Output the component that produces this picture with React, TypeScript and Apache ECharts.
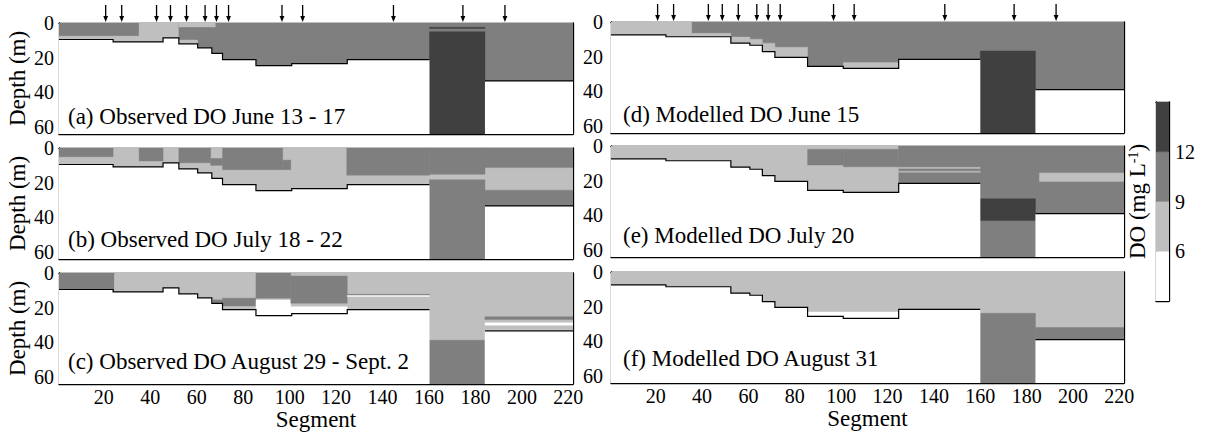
import React, { useEffect, useRef } from "react";
import * as echarts from "echarts";

// ---------- data ----------
const segTicks = [20, 40, 60, 80, 100, 120, 140, 160, 180, 200, 220];
const depthTicks = [0, 20, 40, 60];
const doTicks = [6, 9, 12];
const doThresholds = [3, 6, 9, 12, 15];
const doColors = ["#ffffff", "#bfbfbf", "#7f7f7f", "#404040"];

const SEG_MIN = 0.7;
const SEG_MAX = 222;
const DEPTH_MAX = 64;

// sampling stations (arrows)
const stations = [20.8, 27.7, 42.7, 48.7, 55.6, 63.6, 68.5, 73.7, 96.7, 105.6, 144.7, 174.6, 192.7];

// bathymetry steps: [segment where step starts, bottom depth (m)]
const obsBottom = [
  [0.7, 9.5], [24, 10.9], [45.5, 8.6], [52.3, 12.0], [60.4, 14.3], [66.5, 17.5],
  [71.1, 21.1], [85.5, 24.6], [100.9, 23.4], [124.8, 21.1], [160.2, 64], [184.1, 33.4],
];
const modBottom = [
  [0.7, 7.4], [24.4, 8.5], [52.4, 12.2], [60.6, 13.4], [66, 17.1], [71.4, 20.4],
  [85.5, 25.6], [100.9, 26.7], [124.8, 21.5], [160, 64], [183.8, 39],
];

// DO blocks: [seg start, seg end, depth top, depth bottom, DO mg/L] (drawn in order)
const panelA = [
  [0.7, 35.2, 0, 64, 7.5],
  [0.7, 35.2, 0, 7.3, 10.5],
  [35.2, 52.3, 0, 64, 7.5],
  [52.3, 222, 0, 64, 10.5],
  [52.3, 68, 0, 2.3, 7.5],
  [52.3, 60.4, 9.8, 64, 7.5],
  [160.2, 184.1, 2.5, 3.2, 13.5],
  [160.2, 184.1, 5, 64, 13.5],
];
const panelB = [
  [0.7, 222, 0, 64, 7.5],
  [0.7, 24, 0, 5, 10.5],
  [35.2, 45.5, 0, 7.5, 10.5],
  [52.3, 66, 0, 8.5, 10.5],
  [66, 71.1, 6, 10, 10.5],
  [71.1, 97, 0, 12.5, 10.5],
  [97, 100.5, 7, 12.5, 10.5],
  [124.6, 160.2, 0, 15.7, 10.5],
  [160.2, 184.1, 0, 15.2, 10.5],
  [160.2, 184.1, 18.3, 64, 10.5],
  [184.1, 222, 0, 11.3, 10.5],
  [184.1, 222, 24.3, 64, 10.5],
];
const panelC = [
  [0.7, 24.6, 0, 64, 10.5],
  [24.6, 222, 0, 64, 7.5],
  [67, 71.1, 15.5, 17.5, 10.5],
  [71.1, 85.5, 14.5, 19, 10.5],
  [85.5, 100.5, 0, 14.5, 10.5],
  [85.5, 100.5, 15.5, 64, 4.5],
  [100.5, 124.8, 1.8, 17.4, 10.5],
  [100.5, 124.8, 19.4, 64, 4.5],
  [124.8, 160.2, 12.3, 13.0, 10.5],
  [124.8, 160.2, 13.0, 13.6, 4.5],
  [160.2, 184.1, 38.8, 64, 10.5],
  [184.1, 222, 25.2, 26.8, 10.5],
  [184.1, 222, 28.7, 30.1, 4.5],
  [184.1, 222, 33, 64, 4.5],
];
const panelD = [
  [0.7, 222, 0, 64, 10.5],
  [0.7, 35.5, 0, 64, 7.5],
  [35.5, 52.4, 6.5, 64, 7.5],
  [52.4, 60.6, 8.7, 64, 7.5],
  [60.6, 66, 9.9, 64, 7.5],
  [66, 71.4, 12.2, 64, 7.5],
  [71.4, 85.5, 14.6, 64, 7.5],
  [100.9, 124.8, 23.3, 64, 7.5],
  [160, 183.8, 16.7, 64, 13.5],
];
const panelE = [
  [0.7, 124.8, 0, 64, 7.5],
  [85.5, 100.9, 1.9, 11, 10.5],
  [100.9, 124.8, 1.9, 12, 10.5],
  [124.8, 222, 0, 64, 10.5],
  [124.8, 160, 12.3, 13, 7.5],
  [124.8, 160, 14.5, 15.2, 7.5],
  [160, 183.8, 30.4, 43, 13.5],
  [185.5, 222, 15.5, 20.5, 7.5],
];
const panelF = [
  [0.7, 222, 0, 64, 7.5],
  [85.5, 124.8, 23, 64, 4.5],
  [160, 183.8, 23.8, 64, 10.5],
  [183.8, 222, 32, 64, 10.5],
];

const panelTitles = [
  "(a) Observed DO June 13 - 17",
  "(b) Observed DO July 18 - 22",
  "(c) Observed DO August 29 - Sept. 2",
  "(d) Modelled DO June 15",
  "(e) Modelled DO July 20",
  "(f) Modelled DO August 31",
];

// ---------- layout / style ----------
const FONT = "Liberation Serif";
const grids = [
  { left: 59, top: 23, width: 514, height: 111 },
  { left: 59, top: 148, width: 514, height: 111 },
  { left: 59, top: 273, width: 514, height: 111 },
  { left: 611, top: 22, width: 513, height: 111 },
  { left: 611, top: 146, width: 513, height: 111 },
  { left: 611, top: 272, width: 513, height: 111 },
  { left: 1156, top: 102, width: 13, height: 199 },
];
const labelX = [68, 68, 68, 623, 623, 623];
const labelY = [116.5, 239, 361.3, 114.2, 235.8, 358.3];

function colorFor(v: number) {
  for (let k = 0; k < doThresholds.length - 1; k++) {
    if (v < doThresholds[k + 1]) return doColors[k];
  }
  return doColors[doColors.length - 1];
}

function renderBlock(params: any, api: any) {
  const p0 = api.coord([api.value(0), api.value(2)]);
  const p1 = api.coord([api.value(1), api.value(3)]);
  const c = colorFor(api.value(4));
  return {
    type: "rect",
    shape: {
      x: Math.min(p0[0], p1[0]),
      y: Math.min(p0[1], p1[1]),
      width: Math.abs(p1[0] - p0[0]),
      height: Math.abs(p1[1] - p0[1]),
    },
    style: { fill: c, stroke: c, lineWidth: 0.4 },
  };
}

// whole bottom profile drawn once (white mask below the bed + black bed line)
function renderBottom(params: any, api: any) {
  if (params.dataIndexInside !== 0) return null;
  const n = params.dataInsideLength;
  const runs: number[][][] = [];
  let cur: number[][] = [];
  for (let k = 0; k < n; k++) {
    const x0 = api.value(0, k);
    const x1 = api.value(1, k);
    const d = api.value(2, k);
    if (d < DEPTH_MAX) {
      cur.push(api.coord([x0, d]));
      cur.push(api.coord([x1, d]));
    } else if (cur.length) {
      runs.push(cur);
      cur = [];
    }
  }
  if (cur.length) runs.push(cur);
  const children: any[] = [];
  runs.forEach((pts) => {
    const yb = api.coord([SEG_MIN, DEPTH_MAX])[1];
    const poly = pts.concat([[pts[pts.length - 1][0], yb], [pts[0][0], yb]]);
    children.push({ type: "polygon", z2: 0, shape: { points: poly }, style: { fill: "#ffffff" } });
    children.push({ type: "polyline", z2: 10, shape: { points: pts }, style: { stroke: "#000", lineWidth: 1.2, fill: null } });
  });
  return { type: "group", children };
}

function renderArrow(params: any, api: any) {
  const p = api.coord([api.value(0), 0]);
  return {
    type: "group",
    children: [
      { type: "line", shape: { x1: p[0], y1: p[1] - 18, x2: p[0], y2: p[1] - 5 }, style: { stroke: "#000", lineWidth: 1.3 } },
      {
        type: "polygon",
        shape: { points: [[p[0] - 2.4, p[1] - 7], [p[0] + 2.4, p[1] - 7], [p[0], p[1] - 1]] },
        style: { fill: "#000" },
      },
    ],
  };
}

function renderBand(params: any, api: any) {
  const p0 = api.coord([0, api.value(0)]);
  const p1 = api.coord([1, api.value(1)]);
  const c = colorFor(api.value(2));
  return {
    type: "rect",
    shape: {
      x: Math.min(p0[0], p1[0]),
      y: Math.min(p0[1], p1[1]),
      width: Math.abs(p1[0] - p0[0]),
      height: Math.abs(p1[1] - p0[1]),
    },
    style: { fill: c, stroke: c, lineWidth: 0.4 },
  };
}

function bottomData(steps: number[][]) {
  return steps.map((s, k) => [s[0], k + 1 < steps.length ? steps[k + 1][0] : SEG_MAX, s[1]]);
}

function buildOption() {
  const panels = [panelA, panelB, panelC, panelD, panelE, panelF];
  const axisLine = { show: true, onZero: false, lineStyle: { color: "#000", width: 1.3 } };
  const tickStyle = { color: "#000", width: 1 };
  const xAxis: any[] = [];
  const yAxis: any[] = [];
  const series: any[] = [];

  for (let i = 0; i < 6; i++) {
    const bottomRow = i === 2 || i === 5;
    const leftCol = i < 3;
    xAxis.push({
      gridIndex: i, type: "value", min: SEG_MIN, max: SEG_MAX, position: "bottom",
      axisLine,
      axisTick: { show: true, inside: true, length: 4, customValues: segTicks, lineStyle: tickStyle },
      axisLabel: { show: bottomRow, customValues: segTicks, color: "#000", fontFamily: FONT, fontSize: 20, margin: 3 },
      splitLine: { show: false },
      name: bottomRow ? "Segment" : "", nameLocation: "middle", nameGap: 19,
      nameTextStyle: { color: "#000", fontFamily: FONT, fontSize: 23 },
    });
    xAxis.push({
      gridIndex: i, type: "value", min: SEG_MIN, max: SEG_MAX, position: "top",
      axisLine,
      axisTick: { show: true, inside: true, length: 4, customValues: segTicks, lineStyle: tickStyle },
      axisLabel: { show: false },
      splitLine: { show: false },
    });
    yAxis.push({
      gridIndex: i, type: "value", min: 0, max: DEPTH_MAX, inverse: true, position: "left",
      axisLine,
      axisTick: { show: true, inside: true, length: 4, customValues: depthTicks, lineStyle: tickStyle },
      axisLabel: { show: true, customValues: depthTicks, color: "#000", fontFamily: FONT, fontSize: 20, margin: leftCol ? 5 : 8 },
      splitLine: { show: false },
      name: leftCol ? "Depth (m)" : "", nameLocation: "middle", nameGap: 30, nameRotate: 90,
      nameTextStyle: { color: "#000", fontFamily: FONT, fontSize: 23 },
    });
    yAxis.push({
      gridIndex: i, type: "value", min: 0, max: DEPTH_MAX, inverse: true, position: "right",
      axisLine,
      axisTick: { show: true, inside: true, length: 4, customValues: depthTicks, lineStyle: tickStyle },
      axisLabel: { show: false },
      splitLine: { show: false },
    });

    series.push({
      type: "custom", coordinateSystem: "cartesian2d", xAxisIndex: 2 * i, yAxisIndex: 2 * i,
      data: panels[i], renderItem: renderBlock, clip: true, z: 1, silent: true,
      encode: { x: [0, 1], y: [2, 3] },
    });
    series.push({
      type: "custom", coordinateSystem: "cartesian2d", xAxisIndex: 2 * i, yAxisIndex: 2 * i,
      data: bottomData(leftCol ? obsBottom : modBottom), renderItem: renderBottom, clip: true, z: 2, silent: true,
      encode: { x: [0, 1], y: [2] },
    });
    if (i === 0 || i === 3) {
      series.push({
        type: "custom", coordinateSystem: "cartesian2d", xAxisIndex: 2 * i, yAxisIndex: 2 * i,
        data: stations.map((s) => [s, 0]), renderItem: renderArrow, clip: false, z: 3, silent: true,
      });
    }
  }

  // colour bar
  xAxis.push({ gridIndex: 6, type: "value", min: 0, max: 1, position: "bottom", axisLine, axisTick: { show: false }, axisLabel: { show: false }, splitLine: { show: false } });
  xAxis.push({ gridIndex: 6, type: "value", min: 0, max: 1, position: "top", axisLine, axisTick: { show: false }, axisLabel: { show: false }, splitLine: { show: false } });
  yAxis.push({
    gridIndex: 6, type: "value", min: doThresholds[0], max: doThresholds[doThresholds.length - 1], position: "left",
    axisLine, axisTick: { show: false }, axisLabel: { show: false }, splitLine: { show: false },
    name: "DO (mg L{sup|-1})", nameLocation: "middle", nameGap: 7, nameRotate: 90,
    nameTextStyle: {
      color: "#000", fontFamily: FONT, fontSize: 23,
      rich: { sup: { fontFamily: FONT, fontSize: 14, verticalAlign: "top", color: "#000" } },
    },
  });
  yAxis.push({
    gridIndex: 6, type: "value", min: doThresholds[0], max: doThresholds[doThresholds.length - 1], position: "right",
    axisLine, axisTick: { show: false },
    axisLabel: { show: true, customValues: doTicks, color: "#000", fontFamily: FONT, fontSize: 20, margin: 6 },
    splitLine: { show: false },
  });
  const bands = doColors.map((_, k) => [doThresholds[k], doThresholds[k + 1], (doThresholds[k] + doThresholds[k + 1]) / 2]);
  series.push({
    type: "custom", coordinateSystem: "cartesian2d", xAxisIndex: 12, yAxisIndex: 12,
    data: bands, renderItem: renderBand, clip: true, z: 1, silent: true,
  });

  const graphic = panelTitles.map((t, i) => ({
    type: "text",
    x: labelX[i],
    y: labelY[i],
    z: 20,
    silent: true,
    style: {
      text: t, fill: "#000", font: `23px "${FONT}"`,
      align: "left", verticalAlign: "middle", textAlign: "left", textVerticalAlign: "middle",
    },
  }));

  return {
    animation: false,
    backgroundColor: "#ffffff",
    textStyle: { fontFamily: FONT },
    grid: grids,
    xAxis,
    yAxis,
    series,
    graphic,
  };
}

export default function App() {
  const ref = useRef<HTMLDivElement>(null);
  useEffect(() => {
    if (!ref.current) return;
    const chart = echarts.init(ref.current, undefined, { renderer: "svg" });
    chart.setOption(buildOption() as any);
    return () => chart.dispose();
  }, []);
  return (
    <div
      ref={ref}
      style={{ position: "absolute", left: 0, top: 0, width: 1205, height: 432, background: "#fff" }}
    />
  );
}
